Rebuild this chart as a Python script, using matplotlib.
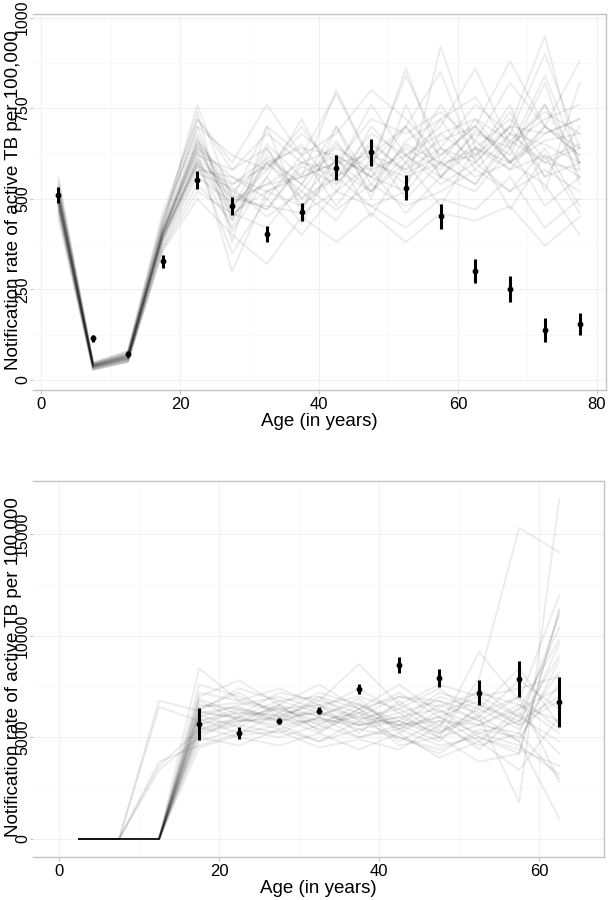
import numpy as np
import matplotlib
matplotlib.use('Agg')
import matplotlib.pyplot as plt

plt.rcParams['font.family'] = ['Liberation Sans', 'DejaVu Sans']

# age groups (mid points)
ages_top = [2.5, 7.5, 12.5, 17.5, 22.5, 27.5, 32.5, 37.5, 42.5, 47.5, 52.5, 57.5, 62.5, 67.5, 72.5, 77.5]
ages_bot = [2.5, 7.5, 12.5, 17.5, 22.5, 27.5, 32.5, 37.5, 42.5, 47.5, 52.5, 57.5, 62.5]

# observed notification rates + half width of error bars
obs_top = [511, 115, 72, 327, 552, 481, 403, 464, 586, 628, 531, 451, 301, 251, 138, 155]
err_top = [22, 10, 8, 19, 25, 25, 22, 25, 34, 37, 35, 35, 33, 35, 33, 30]

obs_ages_bot = [17.5, 22.5, 27.5, 32.5, 37.5, 42.5, 47.5, 52.5, 57.5, 62.5]
obs_bot = [5657, 5230, 5804, 6311, 7378, 8559, 7919, 7198, 7853, 6755]
err_bot = [770, 300, 150, 180, 250, 390, 450, 600, 885, 1230]

# model runs, top panel
sim_top = [
    [505, 38, 62, 405, 640, 470, 600, 520, 650, 560, 700, 590, 640, 720, 610, 650],
    [490, 35, 58, 395, 610, 520, 470, 590, 540, 660, 570, 620, 700, 600, 760, 560],
    [520, 42, 70, 420, 700, 440, 640, 500, 610, 520, 660, 720, 580, 680, 650, 600],
    [480, 33, 55, 385, 580, 560, 500, 620, 480, 610, 540, 680, 610, 740, 560, 700],
    [540, 45, 75, 440, 740, 380, 700, 460, 700, 500, 760, 560, 690, 620, 820, 540],
    [470, 30, 52, 370, 560, 490, 540, 560, 600, 580, 620, 560, 660, 580, 700, 620],
    [500, 37, 64, 410, 630, 300, 520, 480, 560, 640, 500, 600, 540, 660, 600, 580],
    [510, 40, 66, 400, 660, 540, 590, 650, 520, 700, 600, 760, 620, 700, 680, 720],
    [460, 28, 50, 360, 520, 460, 420, 540, 470, 540, 480, 520, 580, 520, 640, 480],
    [530, 44, 72, 430, 720, 600, 760, 620, 790, 600, 840, 640, 760, 680, 900, 640],
    [495, 36, 60, 400, 600, 450, 560, 430, 620, 450, 600, 480, 640, 470, 620, 460],
    [515, 41, 68, 415, 650, 510, 470, 600, 580, 760, 620, 700, 860, 650, 720, 760],
    [485, 34, 57, 390, 590, 420, 620, 540, 700, 540, 650, 600, 620, 760, 520, 820],
    [550, 47, 78, 450, 680, 480, 580, 700, 560, 620, 700, 850, 600, 700, 950, 580],
    [475, 32, 54, 380, 570, 530, 450, 520, 440, 580, 460, 560, 520, 640, 480, 560],
    [505, 39, 63, 405, 620, 580, 640, 480, 580, 520, 600, 660, 700, 880, 700, 620],
    [525, 43, 71, 425, 760, 500, 700, 620, 680, 800, 720, 620, 700, 600, 660, 680],
    [490, 36, 59, 395, 600, 350, 500, 400, 520, 480, 420, 500, 470, 560, 420, 500],
    [500, 38, 63, 405, 640, 560, 520, 570, 620, 560, 640, 580, 680, 640, 760, 600],
    [535, 45, 74, 435, 700, 620, 580, 680, 600, 720, 680, 740, 660, 820, 700, 880],
    [465, 29, 51, 365, 540, 440, 600, 500, 560, 480, 520, 640, 560, 600, 540, 400],
    [510, 40, 65, 410, 650, 470, 650, 560, 800, 600, 700, 560, 640, 580, 620, 560],
    [480, 33, 56, 385, 600, 500, 480, 460, 520, 600, 560, 600, 540, 680, 600, 640],
    [520, 42, 69, 420, 670, 410, 560, 720, 540, 650, 580, 720, 780, 640, 840, 600],
    [495, 37, 61, 400, 590, 540, 610, 540, 660, 520, 620, 540, 600, 520, 580, 520],
    [560, 48, 80, 460, 720, 580, 680, 600, 640, 580, 860, 600, 720, 600, 680, 720],
    [445, 27, 49, 355, 500, 400, 320, 450, 380, 460, 380, 460, 440, 480, 370, 450],
    [505, 39, 64, 405, 630, 500, 540, 600, 560, 680, 620, 680, 720, 660, 740, 680],
    [515, 41, 67, 410, 660, 520, 600, 640, 620, 560, 520, 920, 640, 600, 700, 640],
    [485, 35, 58, 390, 610, 460, 520, 560, 600, 620, 580, 640, 600, 700, 560, 600],
]

# model runs, bottom panel
sim_bot = [
    [0, 0, 0, 6200, 6000, 6400, 5800, 6200, 5600, 6000, 5200, 5800, 7000],
    [0, 0, 0, 5600, 6300, 5700, 6500, 5900, 6400, 5300, 6100, 4800, 8800],
    [0, 0, 0, 6800, 5800, 6600, 6000, 6900, 5200, 6300, 5600, 6600, 5200],
    [0, 0, 0, 5200, 5600, 5200, 6000, 5400, 5800, 5000, 5600, 5200, 9600],
    [0, 0, 0, 7200, 6800, 7400, 6600, 7000, 6400, 7400, 6000, 7800, 6400],
    [0, 0, 0, 4800, 5400, 5000, 5600, 5000, 5400, 4600, 5000, 4400, 3600],
    [0, 0, 0, 6400, 7200, 6000, 6800, 6200, 7200, 6000, 6800, 5600, 11000],
    [0, 0, 0, 5900, 5200, 6200, 5400, 6400, 4800, 5800, 4400, 6200, 4200],
    [0, 0, 0, 6600, 6400, 5800, 7000, 5800, 6600, 5600, 7400, 6000, 10400],
    [0, 0, 0, 5400, 6000, 6800, 6200, 5600, 6000, 6400, 5000, 4200, 11200],
    [0, 0, 0, 7600, 7000, 6200, 7200, 6600, 5600, 7000, 6400, 8400, 5600],
    [0, 0, 0, 5000, 4600, 5400, 4800, 5800, 5000, 4200, 5400, 5000, 7600],
    [0, 0, 0, 6000, 6600, 7000, 6400, 7400, 6200, 6800, 5800, 7000, 2800],
    [0, 0, 0, 6300, 5900, 5600, 5900, 5600, 6000, 5200, 6400, 5400, 8200],
    [0, 0, 0, 5800, 6200, 6100, 6600, 5200, 6800, 5400, 9200, 6800, 12000],
    [0, 0, 0, 7000, 7800, 6600, 7600, 6400, 7600, 6200, 7000, 6000, 4800],
    [0, 0, 0, 5500, 5000, 4600, 5200, 4400, 5200, 4000, 4800, 3400, 6000],
    [0, 0, 0, 6500, 6700, 6300, 6100, 6700, 5400, 6600, 5800, 4800, 1000],
    [0, 0, 0, 6100, 5500, 6500, 5600, 6600, 5800, 7200, 6600, 5800, 9000],
    [0, 0, 0, 4500, 5100, 5300, 4500, 4900, 4400, 5600, 4600, 5200, 3000],
    [0, 0, 0, 6900, 6100, 7200, 6800, 8600, 6600, 7600, 7000, 7400, 8000],
    [0, 0, 0, 5700, 5800, 5900, 5700, 6000, 5600, 5800, 5600, 6400, 7400],
    [0, 0, 0, 6200, 6500, 5800, 6300, 5700, 6200, 5000, 7900, 15300, 14100],
    [0, 0, 0, 5300, 5700, 6600, 5300, 6200, 4600, 5000, 3800, 4200, 11300],
    [0, 0, 0, 8400, 6800, 6400, 6600, 6000, 7000, 6500, 7200, 6600, 5800],
    [0, 0, 3600, 5400, 5800, 6000, 6200, 5600, 5800, 5200, 6000, 1800, 16700],
    [0, 0, 3800, 4600, 5200, 5600, 4800, 5400, 5000, 4400, 5200, 4600, 3200],
    [0, 0, 3400, 5000, 6000, 5400, 6000, 5000, 5600, 4800, 6600, 5600, 6800],
    [0, 0, 6800, 6300, 7400, 6800, 7000, 6400, 7000, 6800, 6200, 7000, 5400],
    [0, 0, 6500, 5800, 6400, 6000, 5200, 6400, 5400, 6000, 4800, 6400, 9800],
]


def style_panel(ax, xlim, ylim, yticks, xticks):
    ax.set_xlim(xlim)
    ax.set_ylim(ylim)
    ax.set_yticks(yticks)
    ax.set_xticks(xticks)
    ax.set_yticks([(a + b) / 2 for a, b in zip(yticks[:-1], yticks[1:])], minor=True)
    ax.set_xticks([(a + b) / 2 for a, b in zip(xticks[:-1], xticks[1:])], minor=True)
    ax.grid(True, which='major', color='#f1f1f1', lw=0.8, zorder=0)
    ax.grid(True, which='minor', color='#f8f8f8', lw=0.6, zorder=0)
    ax.set_axisbelow(True)
    for s in ['top', 'bottom', 'right']:
        ax.spines[s].set_color('#c4c4c4')
        ax.spines[s].set_linewidth(1.0)
    ax.spines['left'].set_visible(False)
    ax.tick_params(axis='x', labelsize=12, color='#c4c4c4', length=3, pad=2)
    ax.tick_params(axis='y', labelsize=11.5, color='#c4c4c4', length=2, pad=0)
    ax.tick_params(which='minor', length=0)
    for lab in ax.get_yticklabels():
        lab.set_rotation(90)
        lab.set_va('center')
    ax.set_xlabel('Age (in years)', fontsize=13.5, labelpad=1)
    ax.set_ylabel('Notification rate of active TB per 100,000', fontsize=13.6)
    ax.yaxis.set_label_coords(-0.019, 0.505)


fig = plt.figure(figsize=(6.08, 9), dpi=100)
ax1 = fig.add_axes([0.0543, 0.5667, 0.9424, 0.4177])
ax2 = fig.add_axes([0.0543, 0.0478, 0.9391, 0.4178])

for run in sim_top:
    ax1.plot(ages_top, run, color='black', alpha=0.075, lw=1.4, zorder=2)
ax1.errorbar(ages_top, obs_top, yerr=err_top, fmt='o', color='black', ms=3.2,
             elinewidth=2.2, capsize=0, zorder=3)
style_panel(ax1, (-1.15, 81.3), (-28, 1010), [0, 250, 500, 750, 1000], [0, 20, 40, 60, 80])

for run in sim_bot:
    ax2.plot(ages_bot, run, color='black', alpha=0.075, lw=1.4, zorder=2)
ax2.errorbar(obs_ages_bot, obs_bot, yerr=err_bot, fmt='o', color='black', ms=3.2,
             elinewidth=2.2, capsize=0, zorder=3)
style_panel(ax2, (-3.25, 68.1), (-885, 17609), [0, 5000, 10000, 15000], [0, 20, 40, 60])

fig.savefig('out.png', dpi=100)
